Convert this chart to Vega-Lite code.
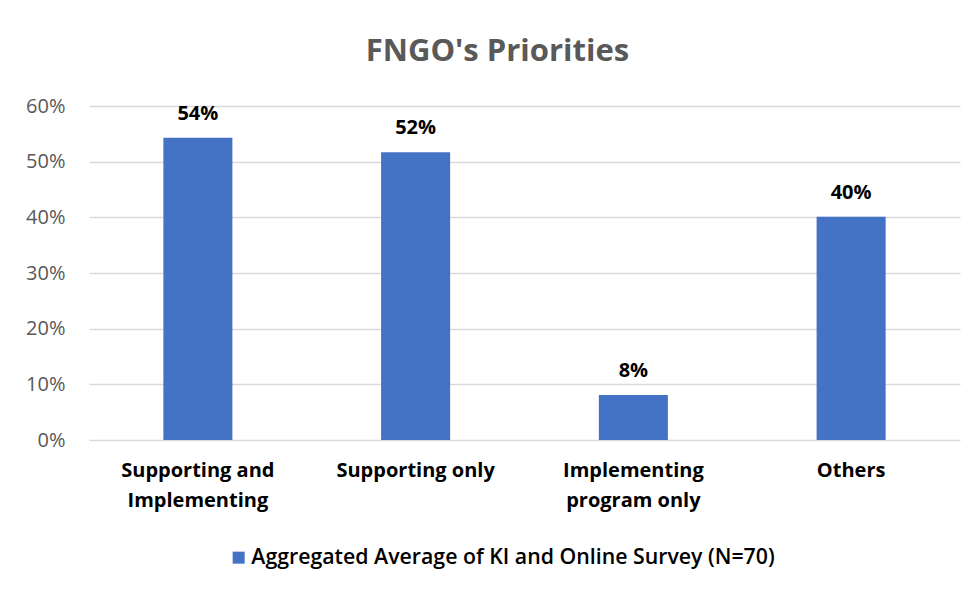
{
  "$schema": "https://vega.github.io/schema/vega-lite/v6.json",
  "autosize": "none",
  "width": 871,
  "height": 334,
  "padding": {"left": 89, "top": 106, "right": 15, "bottom": 153},
  "background": "#ffffff",
  "title": {
    "text": "FNGO's Priorities",
    "font": "Open Sans",
    "fontSize": 31,
    "fontWeight": "bold",
    "color": "#595959",
    "anchor": "middle",
    "dx": -27,
    "offset": 28
  },
  "data": {
    "values": [
      {"category": "Supporting and Implementing", "value": 0.543, "series": "Aggregated Average of KI and Online Survey (N=70)"},
      {"category": "Supporting only", "value": 0.517, "series": "Aggregated Average of KI and Online Survey (N=70)"},
      {"category": "Implementing program only", "value": 0.081, "series": "Aggregated Average of KI and Online Survey (N=70)"},
      {"category": "Others", "value": 0.401, "series": "Aggregated Average of KI and Online Survey (N=70)"}
    ]
  },
  "encoding": {
    "x": {
      "field": "category",
      "type": "nominal",
      "sort": null,
      "scale": {"paddingInner": 0.683, "paddingOuter": 0.3415},
      "axis": {
        "title": null,
        "labelAngle": 0,
        "domain": false,
        "ticks": false,
        "labelFont": "Open Sans",
        "labelFontSize": 20,
        "labelFontWeight": "bold",
        "labelColor": "#000000",
        "labelPadding": 20,
        "labelLineHeight": 30,
        "labelExpr": "datum.value == 'Supporting and Implementing' ? ['Supporting and', 'Implementing'] : datum.value == 'Implementing program only' ? ['Implementing', 'program only'] : datum.value"
      }
    },
    "y": {
      "field": "value",
      "type": "quantitative",
      "scale": {"domain": [0, 0.6], "nice": false},
      "axis": {
        "title": null,
        "values": [0, 0.1, 0.2, 0.3, 0.4, 0.5, 0.6],
        "format": ".0%",
        "domain": false,
        "ticks": false,
        "gridColor": "#d9d9d9",
        "gridWidth": 1.5,
        "labelFont": "Open Sans",
        "labelFontSize": 20,
        "labelColor": "#595959",
        "labelPadding": 24
      }
    }
  },
  "layer": [
    {
      "mark": {"type": "bar"},
      "encoding": {
        "color": {
          "field": "series",
          "type": "nominal",
          "scale": {"range": ["#4472C4"]},
          "legend": {
            "title": null,
            "orient": "none",
            "legendX": 139,
            "legendY": 441,
            "direction": "horizontal",
            "symbolType": "square",
            "symbolSize": 144,
            "symbolStrokeWidth": 0,
            "labelOffset": 2,
            "labelFont": "Open Sans",
            "labelFontSize": 21.3,
            "labelFontWeight": 600,
            "labelColor": "#000000",
            "labelLimit": 700
          }
        }
      }
    },
    {
      "mark": {"type": "text", "font": "Open Sans", "fontSize": 20, "fontWeight": "bold", "color": "#000000", "baseline": "alphabetic", "dy": -18},
      "encoding": {
        "text": {"field": "value", "type": "quantitative", "format": ".0%"}
      }
    }
  ],
  "config": {
    "view": {"stroke": null}
  }
}
